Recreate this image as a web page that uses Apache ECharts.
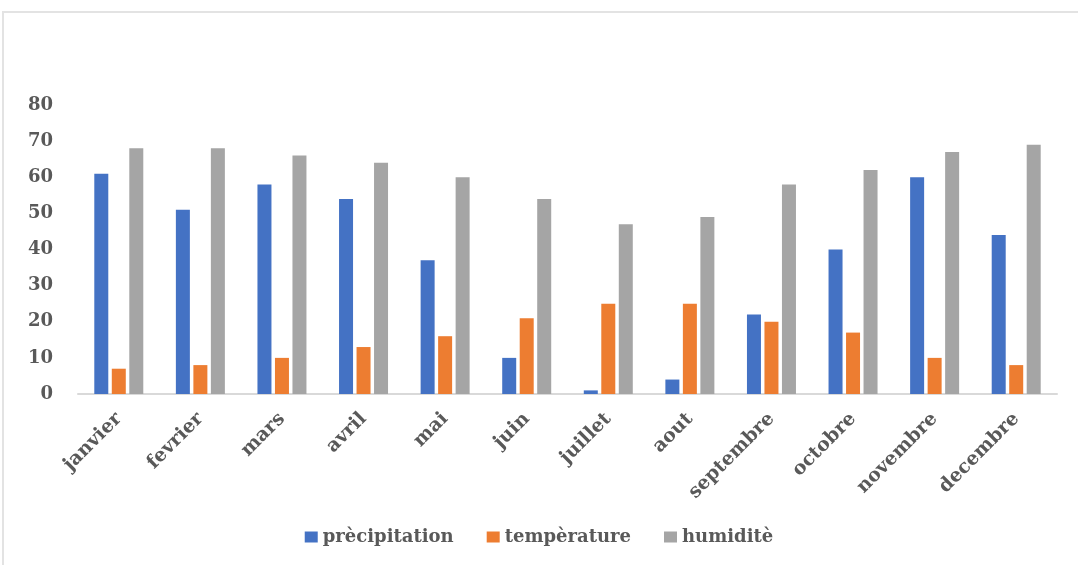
<!DOCTYPE html>
<html>
<head>
<meta charset="utf-8">
<style>
  html, body { margin: 0; padding: 0; background: #fff; }
  #chart { width: 1078px; height: 565px; }
</style>
<script src="https://cdn.jsdelivr.net/npm/echarts@6/dist/echarts.min.js"></script>
</head>
<body>
<div id="chart"></div>
<script>
// Monthly climate normals
const months = ['janvier', 'fevrier', 'mars', 'avril', 'mai', 'juin',
                'juillet', 'aout', 'septembre', 'octobre', 'novembre', 'decembre'];
const precipitation = [61, 51, 58, 54, 37, 10, 1, 4, 22, 40, 60, 44];
const temperature   = [7, 8, 10, 13, 16, 21, 25, 25, 20, 17, 10, 8];
const humidity      = [68, 68, 66, 64, 60, 54, 47, 49, 58, 62, 67, 69];
const seriesNames = ['prècipitation', 'tempèrature', 'humiditè'];
const yTicks = { min: 0, max: 80, interval: 10 };

const textFont = {
  fontFamily: 'DejaVu Serif',
  fontWeight: 'bold',
  fontSize: 17,
  color: '#595959'
};

const chart = echarts.init(document.getElementById('chart'), null, { renderer: 'canvas' });

function barSeries(name, data, color) {
  return {
    name: name,
    type: 'bar',
    data: data,
    barWidth: 14,
    barGap: '25%',
    itemStyle: { color: color },
    emphasis: { disabled: true }
  };
}

chart.setOption({
  animation: false,
  backgroundColor: '#ffffff',
  graphic: [{
    type: 'polyline',
    shape: { points: [[3, 570], [3, 12], [1090, 12]] },
    style: { stroke: '#e3e3e3', lineWidth: 2, fill: null },
    silent: true
  }],
  grid: { left: 78, right: 21, top: 105, bottom: 171, containLabel: false },
  legend: {
    bottom: 14,
    left: 'center',
    icon: 'rect',
    itemWidth: 13,
    itemHeight: 11,
    itemGap: 33,
    textStyle: Object.assign({}, textFont, { fontSize: 18 }),
    data: seriesNames
  },
  xAxis: {
    type: 'category',
    data: months,
    axisTick: { show: false },
    axisLine: { lineStyle: { color: '#d9d9d9', width: 2 } },
    axisLabel: Object.assign({}, textFont, { fontSize: 19, rotate: 45, margin: 22, interval: 0 })
  },
  yAxis: {
    type: 'value',
    min: yTicks.min,
    max: yTicks.max,
    interval: yTicks.interval,
    splitLine: { show: false },
    axisLine: { show: false },
    axisTick: { show: false },
    axisLabel: Object.assign({}, textFont, { fontSize: 18, margin: 25 })
  },
  series: [
    barSeries(seriesNames[0], precipitation, '#4472C4'),
    barSeries(seriesNames[1], temperature, '#ED7D31'),
    barSeries(seriesNames[2], humidity, '#A5A5A5')
  ]
});
</script>
</body>
</html>
